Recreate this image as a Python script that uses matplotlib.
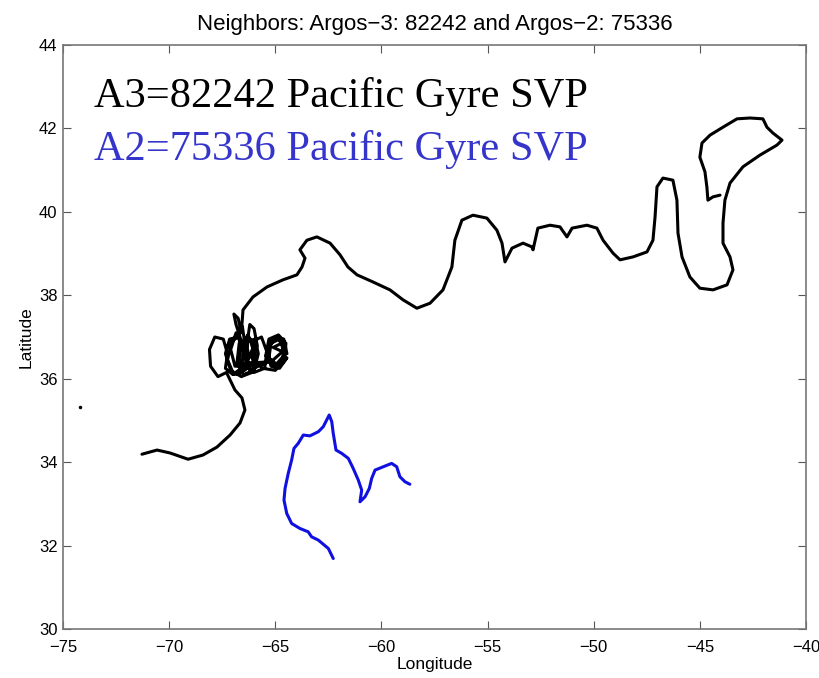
import matplotlib
matplotlib.use('Agg')
import matplotlib.pyplot as plt

# Argos-3 82242 (black drifter), west end -> east end
lon_a3 = [-71.28, -70.57, -69.96, -69.11, -68.41, -67.75, -67.13, -66.66, -66.43, -66.57,
          -66.90, -67.13,
          # loops
          -67.30, -67.70, -68.05, -68.10, -67.85, -67.45, -67.25, -67.35,
          -67.00, -66.60, -66.50, -66.75, -67.15, -67.35, -67.10,
          -66.60, -66.10, -65.95, -66.20, -66.60, -66.70,
          -66.00, -65.50, -65.40, -65.65, -66.05, -66.10,
          -65.60, -65.00, -64.55, -64.50, -64.85, -65.30, -65.45, -65.15, -64.70, -64.55,
          -64.80, -65.20, -65.30, -64.95, -64.60, -64.70, -65.10,
          -64.45, -64.60, -65.00, -65.35, -65.20, -64.80, -64.45,
          -64.70, -65.10, -65.40, -65.25, -64.85, -64.55,
          -65.10, -65.80, -66.20, -66.45, -66.30, -65.95, -65.80, -66.00, -66.50, -66.80,
          -66.70, -66.40, -66.25, -66.55, -66.95, -67.25, -67.05, -66.75, -66.55, -66.45,
          -66.40, -66.30, -66.20, -66.00, -65.85, -66.10, -66.45, -66.85,
          -65.50, -65.90, -66.30, -66.50, -66.30, -66.00, -66.40, -66.90, -67.10, -66.85,
          -66.60, -66.85, -66.95, -66.75, -66.60,
          # north-east
          -66.52, -66.05, -65.39, -64.64, -63.98, -63.74, -63.60, -63.84, -63.51, -63.04,
          -62.42, -61.95, -61.58, -61.15, -60.40, -59.60, -58.98, -58.33, -57.71, -57.10,
          -56.68, -56.54, -56.21, -55.69, -55.03, -54.56, -54.32, -54.18, -53.85, -53.33,
          -52.91, -52.86, -52.63, -52.06, -51.59, -51.26, -51.02, -50.32, -49.85, -49.56,
          -49.09, -48.76, -48.15, -47.49, -47.21, -47.11, -47.02, -46.74, -46.27, -46.08,
          -46.03, -45.84, -45.47, -45.00, -44.38, -43.72, -43.44, -43.58, -43.91, -43.91,
          -43.82, -43.58, -42.97, -42.17, -41.37, -41.13, -41.56, -41.84, -42.03, -42.64,
          -43.25, -43.91, -44.52, -44.90, -45.00, -44.76, -44.67, -44.62, -44.38, -44.05]
lat_a3 = [34.19, 34.29, 34.22, 34.07, 34.17, 34.36, 34.65, 34.94, 35.25, 35.54,
          35.73, 35.97,
          36.15, 36.05, 36.30, 36.70, 37.00, 36.95, 36.60, 36.25,
          36.10, 36.25, 36.65, 37.00, 36.95, 36.60, 36.20,
          36.05, 36.15, 36.55, 36.95, 36.85, 36.45,
          36.15, 36.25, 36.65, 37.00, 36.90, 36.50,
          36.25, 36.20, 36.45, 36.85, 37.05, 36.95, 36.55, 36.30, 36.40, 36.75,
          36.95, 36.85, 36.50, 36.35, 36.55, 36.85, 36.75,
          36.60, 36.95, 37.00, 36.70, 36.30, 36.25, 36.50,
          36.35, 36.30, 36.55, 36.90, 36.95, 36.70,
          36.45, 36.30, 36.20, 36.50, 36.90, 36.95, 36.60, 36.20, 36.10, 36.40,
          36.85, 36.95, 36.55, 36.15, 36.10, 36.45, 36.90, 37.00, 37.25, 36.90,
          36.55, 36.95, 37.30, 37.20, 36.80, 36.35, 36.20, 36.35,
          36.40, 36.30, 36.40, 36.80, 37.05, 36.80, 36.30, 36.30, 36.70, 37.10,
          36.90, 37.30, 37.55, 37.45, 37.10,
          37.65, 37.96, 38.20, 38.37, 38.49, 38.68, 38.89, 39.09, 39.32, 39.40,
          39.25, 38.97, 38.68, 38.49, 38.32, 38.13, 37.89, 37.69, 37.81, 38.13,
          38.68, 39.32, 39.80, 39.92, 39.85, 39.56, 39.25, 38.80, 39.13, 39.25,
          39.16, 39.09, 39.61, 39.68, 39.64, 39.40, 39.61, 39.68, 39.61, 39.32,
          39.01, 38.85, 38.92, 39.04, 39.32, 39.88, 40.60, 40.81, 40.76, 40.28,
          39.49, 38.92, 38.44, 38.17, 38.13, 38.25, 38.61, 38.92, 39.25, 39.73,
          40.28, 40.69, 41.08, 41.36, 41.60, 41.72, 41.89, 42.03, 42.23, 42.25,
          42.23, 42.03, 41.84, 41.65, 41.31, 40.96, 40.60, 40.28, 40.36, 40.40]

# stray fix near the left edge
lon_dot = [-74.20]
lat_dot = [35.31]

# Argos-2 75336 (blue drifter)
lon_a2 = [-62.27, -62.50, -62.97, -63.29, -63.45, -63.84, -64.23, -64.46, -64.59, -64.54,
          -64.39, -64.23, -64.12, -63.92, -63.68, -63.37, -62.97, -62.74, -62.58, -62.46,
          -62.34, -62.27, -62.14, -61.87, -61.56, -61.33, -61.09, -60.93, -61.01, -60.77,
          -60.57, -60.46, -60.30, -59.91, -59.52, -59.28, -59.13, -58.89, -58.66]
lat_a2 = [31.69, 31.93, 32.13, 32.21, 32.33, 32.41, 32.53, 32.77, 33.09, 33.37,
          33.73, 34.05, 34.33, 34.45, 34.65, 34.63, 34.73, 34.85, 35.01, 35.13,
          34.97, 34.69, 34.29, 34.21, 34.09, 33.85, 33.57, 33.33, 33.05, 33.17,
          33.37, 33.61, 33.81, 33.89, 33.97, 33.89, 33.65, 33.53, 33.47]

plt.rcParams['font.family'] = ['Liberation Sans', 'DejaVu Sans']

fig = plt.figure(figsize=(8.19, 6.78), dpi=100)
ax = fig.add_axes([63/819, 1 - 629/678, 743/819, 584/678])

ax.plot(lon_a3, lat_a3, color='black', lw=2.2, solid_joinstyle='round', solid_capstyle='round')
ax.plot(lon_dot, lat_dot, '.', color='black', ms=3)
ax.plot(lon_a2, lat_a2, color='#1010e0', lw=2.2, solid_joinstyle='round', solid_capstyle='round')

ax.text(-73.54, 42.51, 'A3=82242 Pacific Gyre SVP', family='Liberation Serif',
        fontsize=30.5, color='black')
ax.text(-73.54, 41.24, 'A2=75336 Pacific Gyre SVP', family='Liberation Serif',
        fontsize=30.5, color='#3535cc')

ax.set_xlim(-75, -40)
ax.set_ylim(30, 44)
ax.set_xticks(range(-75, -39, 5))
ax.set_yticks(range(30, 45, 2))
ax.tick_params(direction='in', top=True, right=True, length=6, labelsize=12, color='#555555')
ax.tick_params(axis='x', pad=8)
ax.tick_params(axis='y', pad=4)
for s in ax.spines.values():
    s.set_color('#777777')
    s.set_linewidth(1.2)

ax.set_xlabel('Longitude', fontsize=12.5, labelpad=1)
ax.set_ylabel('Latitude', fontsize=12.5, labelpad=4)
ax.set_title('Neighbors: Argos\u22123: 82242 and Argos\u22122: 75336', fontsize=16, pad=11)

fig.savefig('out.png', dpi=100)
